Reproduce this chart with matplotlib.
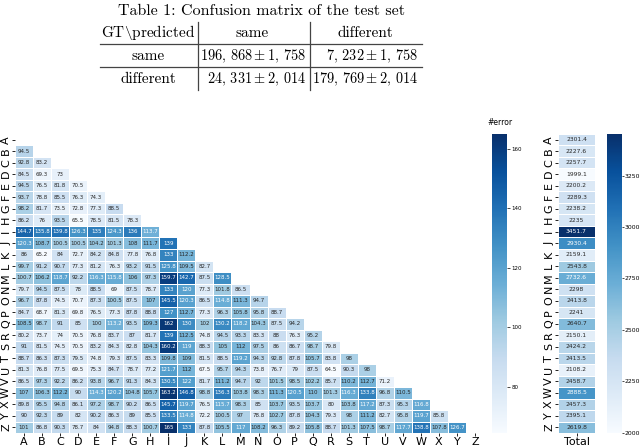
import numpy as np
import pandas as pd
import matplotlib
matplotlib.use("Agg")
import matplotlib.pyplot as plt
import seaborn as sns
from matplotlib.lines import Line2D

plt.rcParams['mathtext.fontset'] = 'cm'

letters = list("ABCDEFGHIJKLMNOPQRSTUVWXYZ")

# pairwise errors, row i holds columns A..(i-1)
pair_rows = [
    [],
    [94.5],
    [92.8, 83.2],
    [84.5, 69.3, 73],
    [94.5, 76.5, 81.8, 70.5],
    [93.7, 78.8, 85.5, 76.3, 74.3],
    [98.2, 81.7, 73.5, 72.8, 77.3, 88.5],
    [86.2, 76, 93.5, 65.5, 78.5, 81.5, 78.3],
    [144.7, 135.8, 139.8, 126.3, 135, 124.3, 136, 113.7],
    [120.3, 108.7, 100.5, 100.5, 104.2, 101.3, 108, 111.7, 139],
    [86, 65.2, 84, 72.7, 84.2, 84.8, 77.8, 76.8, 133, 112.2],
    [99.7, 91.2, 90.7, 77.3, 81.2, 76.3, 93.2, 91.5, 125.8, 109.5, 82.7],
    [100.7, 106.2, 118.7, 92.2, 116.3, 115.8, 106, 97.3, 159.7, 142.7, 87.5, 128.5],
    [79.7, 94.5, 87.5, 78, 88.5, 69, 87.5, 78.7, 133, 120, 77.3, 101.8, 86.5],
    [96.7, 87.8, 74.5, 70.7, 87.3, 100.5, 87.5, 107, 145.5, 120.3, 86.5, 114.8, 111.3, 94.7],
    [84.7, 68.7, 81.3, 69.8, 76.5, 77.3, 87.8, 88.8, 127, 112.7, 77.3, 96.3, 105.8, 95.8, 88.7],
    [108.5, 98.7, 91, 85, 100, 113.2, 93.5, 109.3, 162, 130, 102, 130.2, 118.2, 104.3, 87.5, 94.2],
    [80.2, 73.7, 74, 70.5, 76.8, 83.7, 87, 81.7, 139, 112.5, 74.8, 94.5, 93.3, 83.3, 88, 76.3, 95.2],
    [91, 81.5, 74.5, 70.5, 83.2, 84.3, 82.8, 104.3, 160.2, 119, 88.3, 105, 112, 97.5, 86, 86.7, 98.7, 79.8],
    [88.7, 86.3, 87.3, 79.5, 74.8, 79.3, 87.5, 83.3, 109.8, 109, 81.5, 88.5, 119.2, 94.3, 92.8, 87.8,
     105.7, 83.8, 98],
    [81.3, 76.8, 77.5, 69.5, 75.3, 84.7, 78.7, 77.2, 121.7, 112, 67.5, 95.7, 94.3, 73.8, 76.7, 79,
     87.5, 64.5, 90.3, 98],
    [86.5, 97.3, 92.2, 86.2, 93.8, 96.7, 91.3, 84.3, 130.5, 122, 81.7, 111.2, 94.7, 92, 101.5, 98.5,
     102.2, 85.7, 110.2, 112.7, 71.2],
    [107, 106.3, 112.2, 90, 114.3, 120.2, 104.8, 105.7, 163.2, 146.8, 98.8, 136.3, 103.8, 98.3, 111.3,
     120.5, 110, 101.3, 116.3, 133.8, 96.8, 110.5],
    [89.8, 95.5, 94.8, 86.1, 97.2, 98.7, 90.2, 86.5, 145.7, 119.7, 76.5, 115.7, 98.3, 85, 103.7, 93.5,
     103.7, 80, 103.8, 117.2, 87.3, 95.3, 116.8],
    [90, 92.3, 89, 82, 90.2, 86.3, 89, 85.5, 133.5, 114.8, 72.2, 100.5, 97, 78.8, 102.7, 87.8, 104.3,
     79.3, 98, 111.2, 82.7, 95.8, 119.7, 85.8],
    [101, 86.8, 90.3, 78.7, 84, 94.8, 88.3, 100.7, 165, 133, 87.8, 105.5, 117, 108.2, 96.3, 89.2, 105.8,
     88.7, 101.3, 107.5, 98.7, 117.7, 138.8, 107.8, 126.7],
]

total_errors = [2301.4, 2227.6, 2257.7, 1999.1, 2200.2, 2289.3, 2238.2, 2235, 3451.7, 2930.4,
                2159.1, 2543.8, 2732.6, 2298, 2413.8, 2241, 2640.7, 2150.1, 2424.2, 2413.5,
                2108.2, 2458.7, 2888.5, 2457.3, 2395.1, 2619.8]

table_title = 'Table 1: Confusion matrix of the test set'
table_header = [r'GT$\backslash$predicted', 'same', 'different']
table_rows = [
    ['same', r'$196,\,868\pm1,\,758$', r'$7,\,232\pm1,\,758$'],
    ['different', r'$24,\,331\pm2,\,014$', r'$179,\,769\pm2,\,014$'],
]

W, H = 640, 448


def fx(px):
    return px / W


def fy(py):
    return 1 - py / H


fig = plt.figure(figsize=(6.4, 4.48), dpi=100)

# --- table drawn as text ---
fig.text(fx(261), fy(11), table_title, family='cmr10', fontsize=11.5, ha='center', va='center')
head_x = [148, 252, 365]
for x, s in zip(head_x, table_header):
    fig.text(fx(x), fy(33), s, family='cmr10', fontsize=11, ha='center', va='center')
for y, row in zip([56, 79], table_rows):
    fig.text(fx(148), fy(y), row[0], family='cmr10', fontsize=11, ha='center', va='center')
    fig.text(fx(306), fy(y), row[1], fontsize=10.3, ha='right', va='center')
    fig.text(fx(418), fy(y), row[2], fontsize=10.3, ha='right', va='center')
for y in [44, 67]:
    fig.add_artist(Line2D([fx(100), fx(422)], [fy(y), fy(y)], color='#444444', lw=0.9))
for x in [198, 310]:
    fig.add_artist(Line2D([fx(x), fx(x)], [fy(22), fy(90)], color='#444444', lw=0.9))

# --- pairwise heatmap ---
n = len(letters)
mat = np.full((n, n), np.nan)
for i, row in enumerate(pair_rows):
    mat[i, :len(row)] = row
df = pd.DataFrame(mat, index=letters, columns=letters)
mask = np.isnan(mat)

top, bottom = 134, 433
ax = fig.add_axes([fx(15), fy(bottom), (484 - 15) / W, (bottom - top) / H])
cax = fig.add_axes([fx(492), fy(bottom), 15 / W, (bottom - top) / H])
sns.heatmap(df, mask=mask, cmap='Blues', annot=True, fmt='g', annot_kws={'fontsize': 4},
            linewidths=0.5, linecolor='white', ax=ax, cbar_ax=cax,
            xticklabels=letters, yticklabels=letters)
ax.set_xticklabels(letters, rotation=0, fontsize=8)
ax.set_yticklabels(letters, rotation=90, va='center', fontsize=8)
ax.tick_params(length=2, width=0.6, pad=0.8)
cax.set_yticks([80, 100, 120, 140, 160])
cax.tick_params(labelsize=4, length=2, width=0.5, pad=1)
fig.text(fx(487), fy(122), '#error', fontsize=5.5, va='center')

# --- total heatmap ---
ax2 = fig.add_axes([fx(558), fy(bottom), 37 / W, (bottom - top) / H])
cax2 = fig.add_axes([fx(607), fy(bottom), 15 / W, (bottom - top) / H])
tot = pd.DataFrame({'Total': total_errors}, index=letters)
sns.heatmap(tot, cmap='Blues', annot=True, fmt='g', annot_kws={'fontsize': 4.3},
            linewidths=0.5, linecolor='white', ax=ax2, cbar_ax=cax2,
            xticklabels=['Total'], yticklabels=letters)
ax2.set_xticklabels(['Total'], rotation=0, fontsize=8)
ax2.set_yticklabels(letters, rotation=90, va='center', fontsize=8)
ax2.tick_params(length=2, width=0.6, pad=0.8)
cax2.set_yticks([2000, 2250, 2500, 2750, 3000, 3250])
cax2.tick_params(labelsize=4.4, length=1.5, width=0.5, pad=0.5)

fig.savefig('out.png', dpi=100)
